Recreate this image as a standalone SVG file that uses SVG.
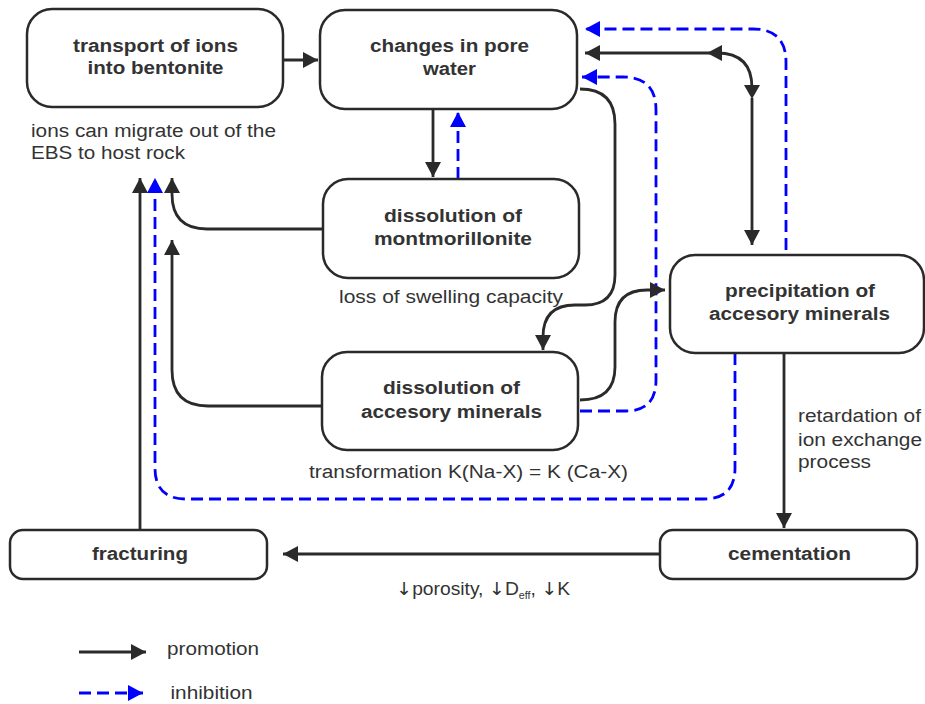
<svg xmlns="http://www.w3.org/2000/svg" width="925" height="704" viewBox="0 0 925 704">
<style>
.box{fill:#fff;stroke:#2a2a2a;stroke-width:2.5}
.t{font-family:"Liberation Sans",Arial,sans-serif;font-size:18px;fill:#333}
.b{font-weight:bold;text-anchor:middle}
.ar{font-family:"DejaVu Sans",sans-serif;fill:#333}
.k{fill:none;stroke:#2a2a2a;stroke-width:2.8}
.u{fill:none;stroke:#0000ff;stroke-width:2.8;stroke-dasharray:12 6}
.ka{fill:#2a2a2a}
</style>
<defs>
<marker id="ak" markerUnits="userSpaceOnUse" markerWidth="15" markerHeight="16" refX="15" refY="8" orient="auto"><path d="M0,0 L15,8 L0,16 z" fill="#2a2a2a"/></marker>
<marker id="ab" markerUnits="userSpaceOnUse" markerWidth="15" markerHeight="16" refX="15" refY="8" orient="auto"><path d="M0,0 L15,8 L0,16 z" fill="#0000ff"/></marker>
</defs>
<rect width="925" height="704" fill="#fff"/>
<g id="connectors">
<path class="k" d="M283,60 L318,60" marker-end="url(#ak)"/>
<path class="k" d="M433,109 L433,177" marker-end="url(#ak)"/>
<path class="u" d="M458,179 L458,112" marker-end="url(#ab)"/>
<path class="u" d="M786,250 L786,62 Q786,29 753,29 L585,29" marker-end="url(#ab)"/>
<path class="k" d="M752,98 L752,245" marker-end="url(#ak)"/>
<path class="k" d="M752,88 Q752,53 717,53 L585,53" marker-end="url(#ak)"/>
<polygon class="ka" points="707,53 722,45 722,61"/>
<polygon class="ka" points="752,99 744,85 760,85"/>
<path class="u" d="M580,411 L626,411 Q656,411 656,380 L656,110 Q656,77 623,77 L582,77" marker-end="url(#ab)"/>
<path class="k" d="M580,89 Q615,89 615,124 L615,275 Q615,305 585,305 L575,305 Q543,305 543,337 L543,350" marker-end="url(#ak)"/>
<path class="k" d="M580,400 Q615,400 615,367 L615,322 Q615,290 647,290 L665,290" marker-end="url(#ak)"/>
<path class="k" d="M323,229 L207,229 Q172,229 172,194 L172,178" marker-end="url(#ak)"/>
<path class="k" d="M322,406 L208,406 Q172,406 172,370 L172,240" marker-end="url(#ak)"/>
<path class="k" d="M140,530 L140,178" marker-end="url(#ak)"/>
<path class="u" d="M735,353 L735,468 Q735,499 704,499 L186,499 Q155,499 155,468 L155,178" marker-end="url(#ab)"/>
<path class="k" d="M784,353 L784,528" marker-end="url(#ak)"/>
<path class="k" d="M660,554 L283,554" marker-end="url(#ak)"/>
</g>
<g id="transport">
<rect class="box" x="27" y="9" width="256" height="98" rx="25"/>
<text class="t b" x="155.5" y="52" textLength="165" lengthAdjust="spacingAndGlyphs">transport of ions</text>
<text class="t b" x="155.5" y="74" textLength="136" lengthAdjust="spacingAndGlyphs">into bentonite</text>
</g>
<g id="pore-water">
<rect class="box" x="320" y="10" width="257" height="99" rx="25"/>
<text class="t b" x="449.5" y="52" textLength="159" lengthAdjust="spacingAndGlyphs">changes in pore</text>
<text class="t b" x="449.5" y="75" textLength="53" lengthAdjust="spacingAndGlyphs">water</text>
</g>
<g id="montmorillonite">
<rect class="box" x="323" y="179" width="256" height="99" rx="25"/>
<text class="t b" x="453" y="222" textLength="138" lengthAdjust="spacingAndGlyphs">dissolution of</text>
<text class="t b" x="453" y="245" textLength="158" lengthAdjust="spacingAndGlyphs">montmorillonite</text>
</g>
<g id="accessory">
<rect class="box" x="322" y="352" width="256" height="98" rx="25"/>
<text class="t b" x="451.5" y="394" textLength="137" lengthAdjust="spacingAndGlyphs">dissolution of</text>
<text class="t b" x="451.5" y="418" textLength="181" lengthAdjust="spacingAndGlyphs">accesory minerals</text>
</g>
<g id="precipitation">
<rect class="box" x="670" y="255" width="254" height="98" rx="25"/>
<text class="t b" x="800" y="297" textLength="150" lengthAdjust="spacingAndGlyphs">precipitation of</text>
<text class="t b" x="799.5" y="320" textLength="181" lengthAdjust="spacingAndGlyphs">accesory minerals</text>
</g>
<g id="cementation">
<rect class="box" x="660" y="530" width="257" height="49" rx="13"/>
<text class="t b" x="789.5" y="560" textLength="123" lengthAdjust="spacingAndGlyphs">cementation</text>
</g>
<g id="fracturing">
<rect class="box" x="10" y="530" width="257" height="49" rx="13"/>
<text class="t b" x="140" y="560" textLength="96" lengthAdjust="spacingAndGlyphs">fracturing</text>
</g>
<g id="labels">
<text class="t" x="31" y="137" textLength="245" lengthAdjust="spacingAndGlyphs">ions can migrate out of the</text>
<text class="t" x="31" y="159" textLength="154" lengthAdjust="spacingAndGlyphs">EBS to host rock</text>
<text class="t" x="339" y="303" textLength="224" lengthAdjust="spacingAndGlyphs">loss of swelling capacity</text>
<text class="t" x="309" y="478" textLength="319" lengthAdjust="spacingAndGlyphs">transformation K(Na-X) = K (Ca-X)</text>
<text class="t" x="798" y="422" textLength="123" lengthAdjust="spacingAndGlyphs">retardation of</text>
<text class="t" x="798" y="446" textLength="124" lengthAdjust="spacingAndGlyphs">ion exchange</text>
<text class="t" x="798" y="468" textLength="73" lengthAdjust="spacingAndGlyphs">process</text>
<text class="t" transform="translate(396,595) scale(1.07,1)"><tspan class="ar">↓</tspan>porosity, <tspan class="ar">↓</tspan>D<tspan font-size="10" dy="4">eff</tspan><tspan dy="-4">, </tspan><tspan class="ar">↓</tspan>K</text>
</g>
<g id="legend">
<path class="k" d="M79,652 L146,652" marker-end="url(#ak)"/>
<text class="t" x="167" y="655" textLength="92" lengthAdjust="spacingAndGlyphs">promotion</text>
<path class="u" d="M79,693 L143,693" stroke-dasharray="13 5" marker-end="url(#ab)"/>
<text class="t" x="170.5" y="699" textLength="82" lengthAdjust="spacingAndGlyphs">inhibition</text>
</g>
</svg>
